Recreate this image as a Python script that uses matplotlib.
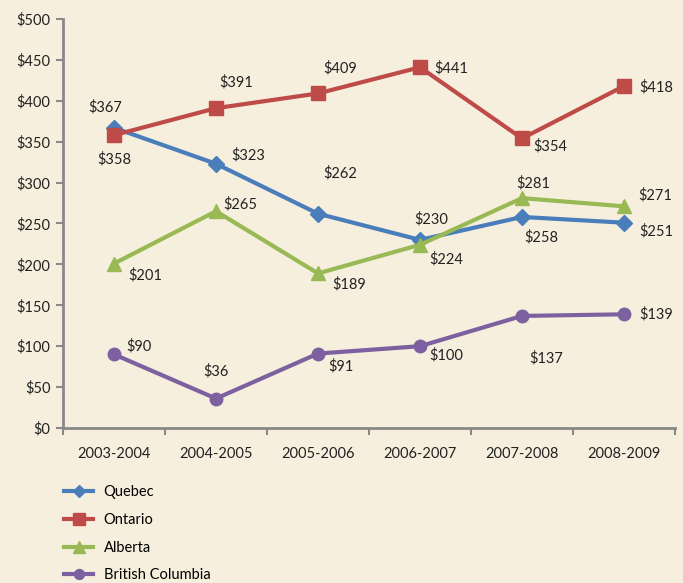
import matplotlib
matplotlib.use("Agg")
import matplotlib.pyplot as plt

years = ["2003-2004", "2004-2005", "2005-2006", "2006-2007", "2007-2008", "2008-2009"]
quebec = [367, 323, 262, 230, 258, 251]
ontario = [358, 391, 409, 441, 354, 418]
alberta = [201, 265, 189, 224, 281, 271]
bc = [90, 36, 91, 100, 137, 139]
series_names = ["Quebec", "Ontario", "Alberta", "British Columbia"]
yticks = [0, 50, 100, 150, 200, 250, 300, 350, 400, 450, 500]

colors = ["#4A7EBB", "#BE4B48", "#98B954", "#7D60A0"]
markers = ["D", "s", "^", "o"]
msizes = [8, 10, 10, 9]
# label offsets in pixels (dx, dy with dy positive = down)
offsets = [
    [(-9, -21), (32, -9), (22, -40), (11, -21), (19, 20), (32, 9)],
    [(0, 24), (20, -26), (22, -25), (31, 1), (28, 8), (32, 1)],
    [(31, 12), (24, -7), (31, 11), (26, 14), (11, -15), (31, -11)],
    [(25, -8), (0, -27), (23, 13), (26, 9), (24, 42), (32, 0)],
]

bg = "#F7EFDE"
plt.rcParams['font.family'] = ['Lato', 'DejaVu Sans']
fig = plt.figure(figsize=(6.83, 5.83), dpi=100, facecolor=bg)
W, H = 683, 583
ax = fig.add_axes([63 / W, 1 - 428 / H, (675 - 63) / W, (428 - 19) / H])
ax.set_facecolor(bg)

x = list(range(len(years)))
data = [quebec, ontario, alberta, bc]
lines = []
for vals, name, c, m, ms, offs in zip(data, series_names, colors, markers, msizes, offsets):
    ln, = ax.plot(x, vals, color=c, lw=3, marker=m, ms=ms, label=name, zorder=3)
    lines.append(ln)
    for xi, v, (dx, dy) in zip(x, vals, offs):
        ax.annotate(f"${v}", (xi, v), xytext=(dx * 0.72, -dy * 0.72), textcoords="offset points",
                    ha="center", va="center", fontsize=10.5, color="#222222")

ax.set_xlim(-0.5, len(years) - 0.5)
ax.set_ylim(0, 500)
ax.set_yticks(yticks)
ax.set_yticklabels([f"${v}" for v in yticks], fontsize=10.5, color="#222222")
ax.set_xticks(x)
ax.set_xticklabels(years, fontsize=10.5, color="#222222")
ax.set_xticks([i - 0.5 for i in range(len(years) + 1)], minor=True)
ax.tick_params(axis="x", which="major", length=0, pad=14)
ax.tick_params(axis="x", which="minor", length=5, color="#888888", width=1.5)
ax.tick_params(axis="y", length=5, color="#888888", width=1.5, pad=4)
for s in ["top", "right"]:
    ax.spines[s].set_visible(False)
for s in ["left", "bottom"]:
    ax.spines[s].set_color("#888888")
    ax.spines[s].set_linewidth(2)

fig.legend(handles=lines, loc="upper left", bbox_to_anchor=(57 / W, 1 - 478 / H),
           frameon=False, fontsize=10.5, handlelength=2.0, labelspacing=0.94, borderpad=0,
           handletextpad=0.7, markerscale=0.8)

fig.savefig("out.png", dpi=100, facecolor=bg)
